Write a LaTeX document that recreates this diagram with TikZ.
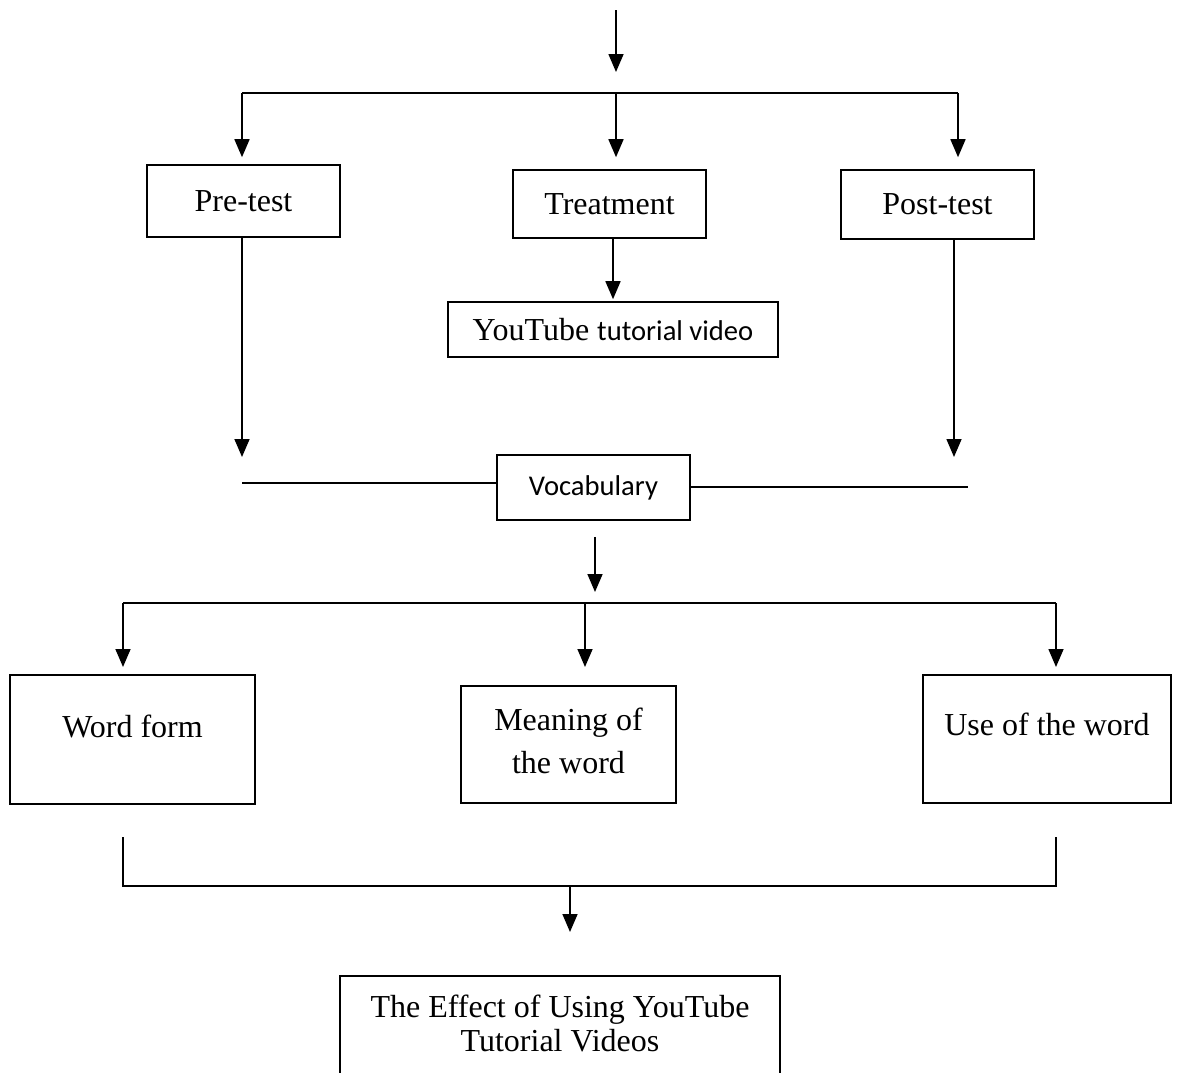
\documentclass[tikz,border=0pt]{standalone}
\usepackage{fontspec}
\setmainfont{Liberation Serif}
\newfontfamily\calibfont{Carlito}
\usetikzlibrary{positioning, arrows.meta}

\begin{document}
\begin{tikzpicture}[
    x=0.5pt, y=-0.5pt,
    box/.style={rectangle, draw, line width=0.8pt, minimum width=96.5pt, inner sep=2pt, font=\fontsize{16}{19}\selectfont},
    txt/.style={inner sep=0pt, align=center, font=\fontsize{16}{21.5}\selectfont},
    arr/.style={-{Triangle[width=7.5pt, length=9pt]}, line width=0.8pt},
    bar/.style={line width=0.8pt},
  ]
  \useasboundingbox (0,0) rectangle (1179,1072);
  % Top level
  \coordinate (start) at (616,10);
  \coordinate (start_end) at (616,72);
  \coordinate (bar_l) at (242,93);
  \coordinate (bar_m) at (616,93);
  \coordinate (bar_r) at (958,93);
  \node[box, minimum height=36pt] (pre) at (243.5,201) {Pre-test};
  \node[box, minimum height=34pt] (treat) at (609.5,204) {Treatment};
  \node[box, minimum height=34.5pt] (post) at (937.5,204.5) {Post-test};
  \node[box, minimum width=165pt, minimum height=27.5pt] (yt) at (613,329.5) {YouTube {\calibfont\fontsize{14.3}{17}\selectfont tutorial video}};
  % Help nodes for the vocabulary line
  \coordinate (pre_end) at (242,457);
  \coordinate (post_end) at (954,457);
  \coordinate (voc_l) at (242,483);
  \coordinate (voc_r) at (968,487);
  \node[box, minimum height=32.5pt, font=\calibfont\fontsize{14.3}{17}\selectfont] (vocab) at (593.5,487.5) {Vocabulary};

  % Edges top
  \draw[arr] (start) -- (start_end);
  \draw[bar] (bar_l) -- (bar_r);
  \draw[arr, shorten >=3.5pt] (bar_l) -- (bar_l |- pre.north);
  \draw[arr, shorten >=6pt] (bar_m) -- (bar_m |- treat.north);
  \draw[arr, shorten >=6pt] (bar_r) -- (bar_r |- post.north);
  \draw[arr, shorten >=1pt] (yt.north |- treat.south) -- (yt.north);
  % Edges to vocabulary
  \draw[arr] (pre.south -| pre_end) -- (pre_end);
  \draw[arr] (post.south -| post_end) -- (post_end);
  \draw[bar] (voc_l) -- (voc_l -| vocab.west);
  \draw[bar] (vocab.east |- voc_r) -- (voc_r);

  % Aspects of vocabulary
  \coordinate (voc_end) at (595,592);
  \coordinate (bar2_l) at (123,603);
  \coordinate (bar2_m) at (585,603);
  \coordinate (bar2_r) at (1056,603);
  \node[box, minimum width=122.5pt, minimum height=64.5pt,
        label={[txt, below=20pt]north:Word form}] (form) at (132.5,739.5) {};
  \node[box, minimum width=107.5pt, minimum height=58.5pt,
        label={[txt, below=11pt]north:{Meaning of\\the word}}] (meaning) at (568.5,744.5) {};
  \node[box, minimum width=124pt, minimum height=64pt,
        label={[txt, below=19pt]north:Use of the word}] (use) at (1047,739) {};
  \draw[arr] ([yshift=-8pt]vocab.south -| voc_end) -- (voc_end);
  \draw[bar] (bar2_l) -- (bar2_r);
  \draw[arr] (bar2_l) -- ++(0,64);
  \draw[arr] (bar2_m) -- ++(0,64);
  \draw[arr] (bar2_r) -- ++(0,64);

  % Result
  \coordinate (br_l) at (123,837);
  \coordinate (br_r) at (1056,837);
  \coordinate (br_m) at (570,886);
  \node[box, minimum width=220pt, minimum height=62pt,
        label={[txt, below=9.5pt, font=\fontsize{16}{17}\selectfont]north:{The Effect of Using YouTube\\Tutorial Videos}}] (effect) at (560,1038) {};
  \draw[bar] (br_l) -- (br_l |- br_m) -| (br_r);
  \draw[arr] (br_m) -- ++(0,46);
\end{tikzpicture}
\end{document}
